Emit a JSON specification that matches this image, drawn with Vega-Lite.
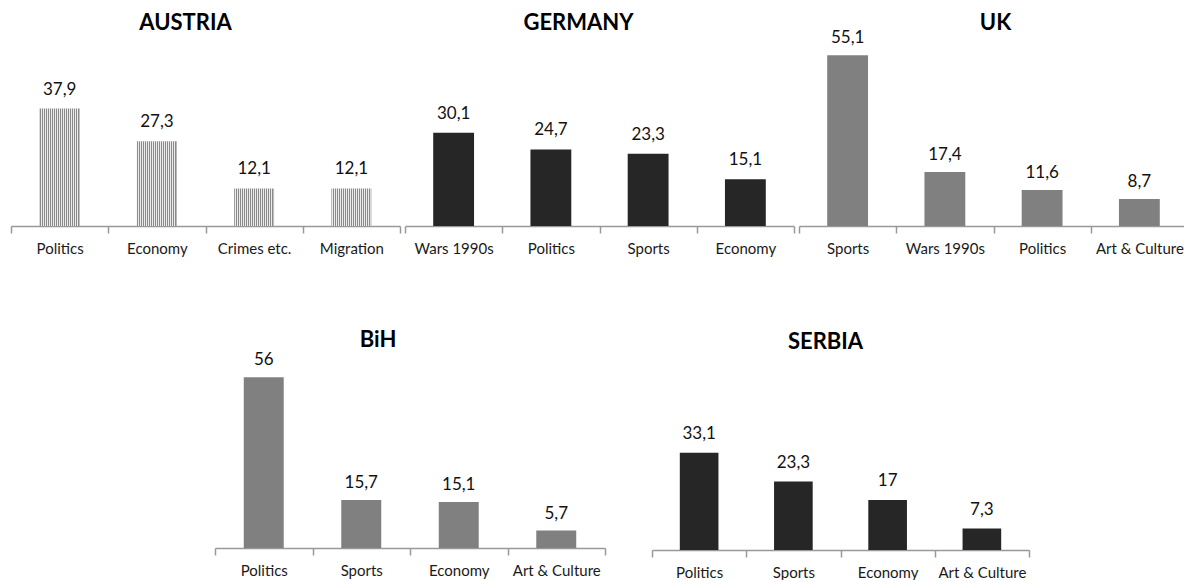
{
  "$schema": "https://vega.github.io/schema/vega-lite/v6.json",
  "padding": {"left": 10, "top": 12, "right": 0, "bottom": 0},
  "background": "white",
  "datasets": {
    "topics": [
      {"country": "AUSTRIA", "topic": "Politics", "value": 37.9},
      {"country": "AUSTRIA", "topic": "Economy", "value": 27.3},
      {"country": "AUSTRIA", "topic": "Crimes etc.", "value": 12.1},
      {"country": "AUSTRIA", "topic": "Migration", "value": 12.1},
      {"country": "GERMANY", "topic": "Wars 1990s", "value": 30.1},
      {"country": "GERMANY", "topic": "Politics", "value": 24.7},
      {"country": "GERMANY", "topic": "Sports", "value": 23.3},
      {"country": "GERMANY", "topic": "Economy", "value": 15.1},
      {"country": "UK", "topic": "Sports", "value": 55.1},
      {"country": "UK", "topic": "Wars 1990s", "value": 17.4},
      {"country": "UK", "topic": "Politics", "value": 11.6},
      {"country": "UK", "topic": "Art & Culture", "value": 8.7},
      {"country": "BiH", "topic": "Politics", "value": 56},
      {"country": "BiH", "topic": "Sports", "value": 15.7},
      {"country": "BiH", "topic": "Economy", "value": 15.1},
      {"country": "BiH", "topic": "Art & Culture", "value": 5.7},
      {"country": "SERBIA", "topic": "Politics", "value": 33.1},
      {"country": "SERBIA", "topic": "Sports", "value": 23.3},
      {"country": "SERBIA", "topic": "Economy", "value": 17},
      {"country": "SERBIA", "topic": "Art & Culture", "value": 7.3}
    ]
  },
  "data": {"name": "topics"},
  "vconcat": [
    {
      "hconcat": [
        {
          "title": {"text": "AUSTRIA", "dx": -20, "offset": 5},
          "width": 389, "height": 186,
          "transform": [{"filter": "datum.country === 'AUSTRIA'"}],
          "encoding": {
            "x": {"field": "topic", "type": "nominal", "sort": null, "scale": {"paddingInner": 0, "paddingOuter": 0}, "axis": {"tickBand": "extent"}},
            "y": {"field": "value", "type": "quantitative", "scale": {"domain": [0, 60]}, "axis": null}
          },
          "layer": [
            {"mark": {"type": "bar", "width": {"band": 0.41}, "color": {"gradient": "linear", "x1": 0, "x2": 1, "y1": 0, "y2": 0, "stops": [
              {"offset": 0, "color": "#8a8a8a"}, {"offset": 0.025, "color": "#8a8a8a"}, {"offset": 0.025, "color": "#ebebeb"}, {"offset": 0.05, "color": "#ebebeb"},
              {"offset": 0.05, "color": "#8a8a8a"}, {"offset": 0.075, "color": "#8a8a8a"}, {"offset": 0.075, "color": "#ebebeb"}, {"offset": 0.1, "color": "#ebebeb"},
              {"offset": 0.1, "color": "#8a8a8a"}, {"offset": 0.125, "color": "#8a8a8a"}, {"offset": 0.125, "color": "#ebebeb"}, {"offset": 0.15, "color": "#ebebeb"},
              {"offset": 0.15, "color": "#8a8a8a"}, {"offset": 0.175, "color": "#8a8a8a"}, {"offset": 0.175, "color": "#ebebeb"}, {"offset": 0.2, "color": "#ebebeb"},
              {"offset": 0.2, "color": "#8a8a8a"}, {"offset": 0.225, "color": "#8a8a8a"}, {"offset": 0.225, "color": "#ebebeb"}, {"offset": 0.25, "color": "#ebebeb"},
              {"offset": 0.25, "color": "#8a8a8a"}, {"offset": 0.275, "color": "#8a8a8a"}, {"offset": 0.275, "color": "#ebebeb"}, {"offset": 0.3, "color": "#ebebeb"},
              {"offset": 0.3, "color": "#8a8a8a"}, {"offset": 0.325, "color": "#8a8a8a"}, {"offset": 0.325, "color": "#ebebeb"}, {"offset": 0.35, "color": "#ebebeb"},
              {"offset": 0.35, "color": "#8a8a8a"}, {"offset": 0.375, "color": "#8a8a8a"}, {"offset": 0.375, "color": "#ebebeb"}, {"offset": 0.4, "color": "#ebebeb"},
              {"offset": 0.4, "color": "#8a8a8a"}, {"offset": 0.425, "color": "#8a8a8a"}, {"offset": 0.425, "color": "#ebebeb"}, {"offset": 0.45, "color": "#ebebeb"},
              {"offset": 0.45, "color": "#8a8a8a"}, {"offset": 0.475, "color": "#8a8a8a"}, {"offset": 0.475, "color": "#ebebeb"}, {"offset": 0.5, "color": "#ebebeb"},
              {"offset": 0.5, "color": "#8a8a8a"}, {"offset": 0.525, "color": "#8a8a8a"}, {"offset": 0.525, "color": "#ebebeb"}, {"offset": 0.55, "color": "#ebebeb"},
              {"offset": 0.55, "color": "#8a8a8a"}, {"offset": 0.575, "color": "#8a8a8a"}, {"offset": 0.575, "color": "#ebebeb"}, {"offset": 0.6, "color": "#ebebeb"},
              {"offset": 0.6, "color": "#8a8a8a"}, {"offset": 0.625, "color": "#8a8a8a"}, {"offset": 0.625, "color": "#ebebeb"}, {"offset": 0.65, "color": "#ebebeb"},
              {"offset": 0.65, "color": "#8a8a8a"}, {"offset": 0.675, "color": "#8a8a8a"}, {"offset": 0.675, "color": "#ebebeb"}, {"offset": 0.7, "color": "#ebebeb"},
              {"offset": 0.7, "color": "#8a8a8a"}, {"offset": 0.725, "color": "#8a8a8a"}, {"offset": 0.725, "color": "#ebebeb"}, {"offset": 0.75, "color": "#ebebeb"},
              {"offset": 0.75, "color": "#8a8a8a"}, {"offset": 0.775, "color": "#8a8a8a"}, {"offset": 0.775, "color": "#ebebeb"}, {"offset": 0.8, "color": "#ebebeb"},
              {"offset": 0.8, "color": "#8a8a8a"}, {"offset": 0.825, "color": "#8a8a8a"}, {"offset": 0.825, "color": "#ebebeb"}, {"offset": 0.85, "color": "#ebebeb"},
              {"offset": 0.85, "color": "#8a8a8a"}, {"offset": 0.875, "color": "#8a8a8a"}, {"offset": 0.875, "color": "#ebebeb"}, {"offset": 0.9, "color": "#ebebeb"},
              {"offset": 0.9, "color": "#8a8a8a"}, {"offset": 0.925, "color": "#8a8a8a"}, {"offset": 0.925, "color": "#ebebeb"}, {"offset": 0.95, "color": "#ebebeb"},
              {"offset": 0.95, "color": "#8a8a8a"}, {"offset": 0.975, "color": "#8a8a8a"}, {"offset": 0.975, "color": "#ebebeb"}, {"offset": 1, "color": "#8a8a8a"}
            ]}}},
            {"mark": {"type": "text", "baseline": "alphabetic", "dy": -14, "font": "Lato", "fontSize": 17, "color": "#111111"},
             "encoding": {"text": {"field": "value", "type": "quantitative", "format": "~g"}}}
          ]
        },
        {
          "title": {"text": "GERMANY", "dx": -21, "offset": 5},
          "width": 389, "height": 186,
          "transform": [{"filter": "datum.country === 'GERMANY'"}],
          "encoding": {
            "x": {"field": "topic", "type": "nominal", "sort": null, "scale": {"paddingInner": 0, "paddingOuter": 0}, "axis": {"tickBand": "extent"}},
            "y": {"field": "value", "type": "quantitative", "scale": {"domain": [0, 60]}, "axis": null}
          },
          "layer": [
            {"mark": {"type": "bar", "width": {"band": 0.42}, "color": "#262626"}},
            {"mark": {"type": "text", "baseline": "alphabetic", "dy": -14, "font": "Lato", "fontSize": 17, "color": "#111111"},
             "encoding": {"text": {"field": "value", "type": "quantitative", "format": "~g"}}}
          ]
        },
        {
          "title": {"text": "UK", "dx": 2, "offset": -6},
          "width": 389, "height": 186,
          "transform": [{"filter": "datum.country === 'UK'"}],
          "encoding": {
            "x": {"field": "topic", "type": "nominal", "sort": null, "scale": {"paddingInner": 0, "paddingOuter": 0}, "axis": {"tickBand": "extent"}},
            "y": {"field": "value", "type": "quantitative", "scale": {"domain": [0, 60]}, "axis": null}
          },
          "layer": [
            {"mark": {"type": "bar", "width": {"band": 0.42}, "color": "#808080"}},
            {"mark": {"type": "text", "baseline": "alphabetic", "dy": -12, "font": "Lato", "fontSize": 17, "color": "#111111"},
             "encoding": {"text": {"field": "value", "type": "quantitative", "format": "~g"}}}
          ]
        }
      ],
      "spacing": 3
    },
    {
      "hconcat": [
        {
          "data": {"values": []},
          "width": 158, "height": 183,
          "mark": "point",
          "encoding": {}
        },
        {
          "title": {"text": "BiH", "dx": -32, "offset": -1},
          "width": 390, "height": 183,
          "transform": [{"filter": "datum.country === 'BiH'"}],
          "encoding": {
            "x": {"field": "topic", "type": "nominal", "sort": null, "scale": {"paddingInner": 0, "paddingOuter": 0}, "axis": {"tickBand": "extent"}},
            "y": {"field": "value", "type": "quantitative", "scale": {"domain": [0, 60]}, "axis": null}
          },
          "layer": [
            {"mark": {"type": "bar", "width": {"band": 0.41}, "color": "#808080"}},
            {"mark": {"type": "text", "baseline": "alphabetic", "dy": -12, "font": "Lato", "fontSize": 17, "color": "#111111"},
             "encoding": {"text": {"field": "value", "type": "quantitative", "format": "~g"}}}
          ]
        },
        {
          "title": {"text": "SERBIA", "dx": -15, "offset": 11},
          "width": 377, "height": 185,
          "transform": [{"filter": "datum.country === 'SERBIA'"}],
          "encoding": {
            "x": {"field": "topic", "type": "nominal", "sort": null, "scale": {"paddingInner": 0, "paddingOuter": 0}, "axis": {"tickBand": "extent"}},
            "y": {"field": "value", "type": "quantitative", "scale": {"domain": [0, 63]}, "axis": null}
          },
          "layer": [
            {"mark": {"type": "bar", "width": {"band": 0.41}, "color": "#262626"}},
            {"mark": {"type": "text", "baseline": "alphabetic", "dy": -14, "font": "Lato", "fontSize": 17, "color": "#111111"},
             "encoding": {"text": {"field": "value", "type": "quantitative", "format": "~g"}}}
          ]
        }
      ],
      "spacing": 45
    }
  ],
  "spacing": 73,
  "config": {
    "locale": {"number": {"decimal": ",", "thousands": ".", "grouping": [3], "currency": ["", " €"]}},
    "view": {"stroke": null},
    "title": {"font": "Lato", "fontSize": 22, "fontWeight": "bold", "color": "#000000", "frame": "group", "baseline": "alphabetic", "anchor": "middle"},
    "axis": {
      "title": null,
      "labelAngle": 0,
      "labelFont": "Lato",
      "labelFontSize": 15,
      "labelColor": "#1a1a1a",
      "labelPadding": 8,
      "domainColor": "#999999",
      "domainWidth": 1.5,
      "tickColor": "#999999",
      "tickWidth": 1.5,
      "tickSize": 7,
      "grid": false
    }
  }
}
